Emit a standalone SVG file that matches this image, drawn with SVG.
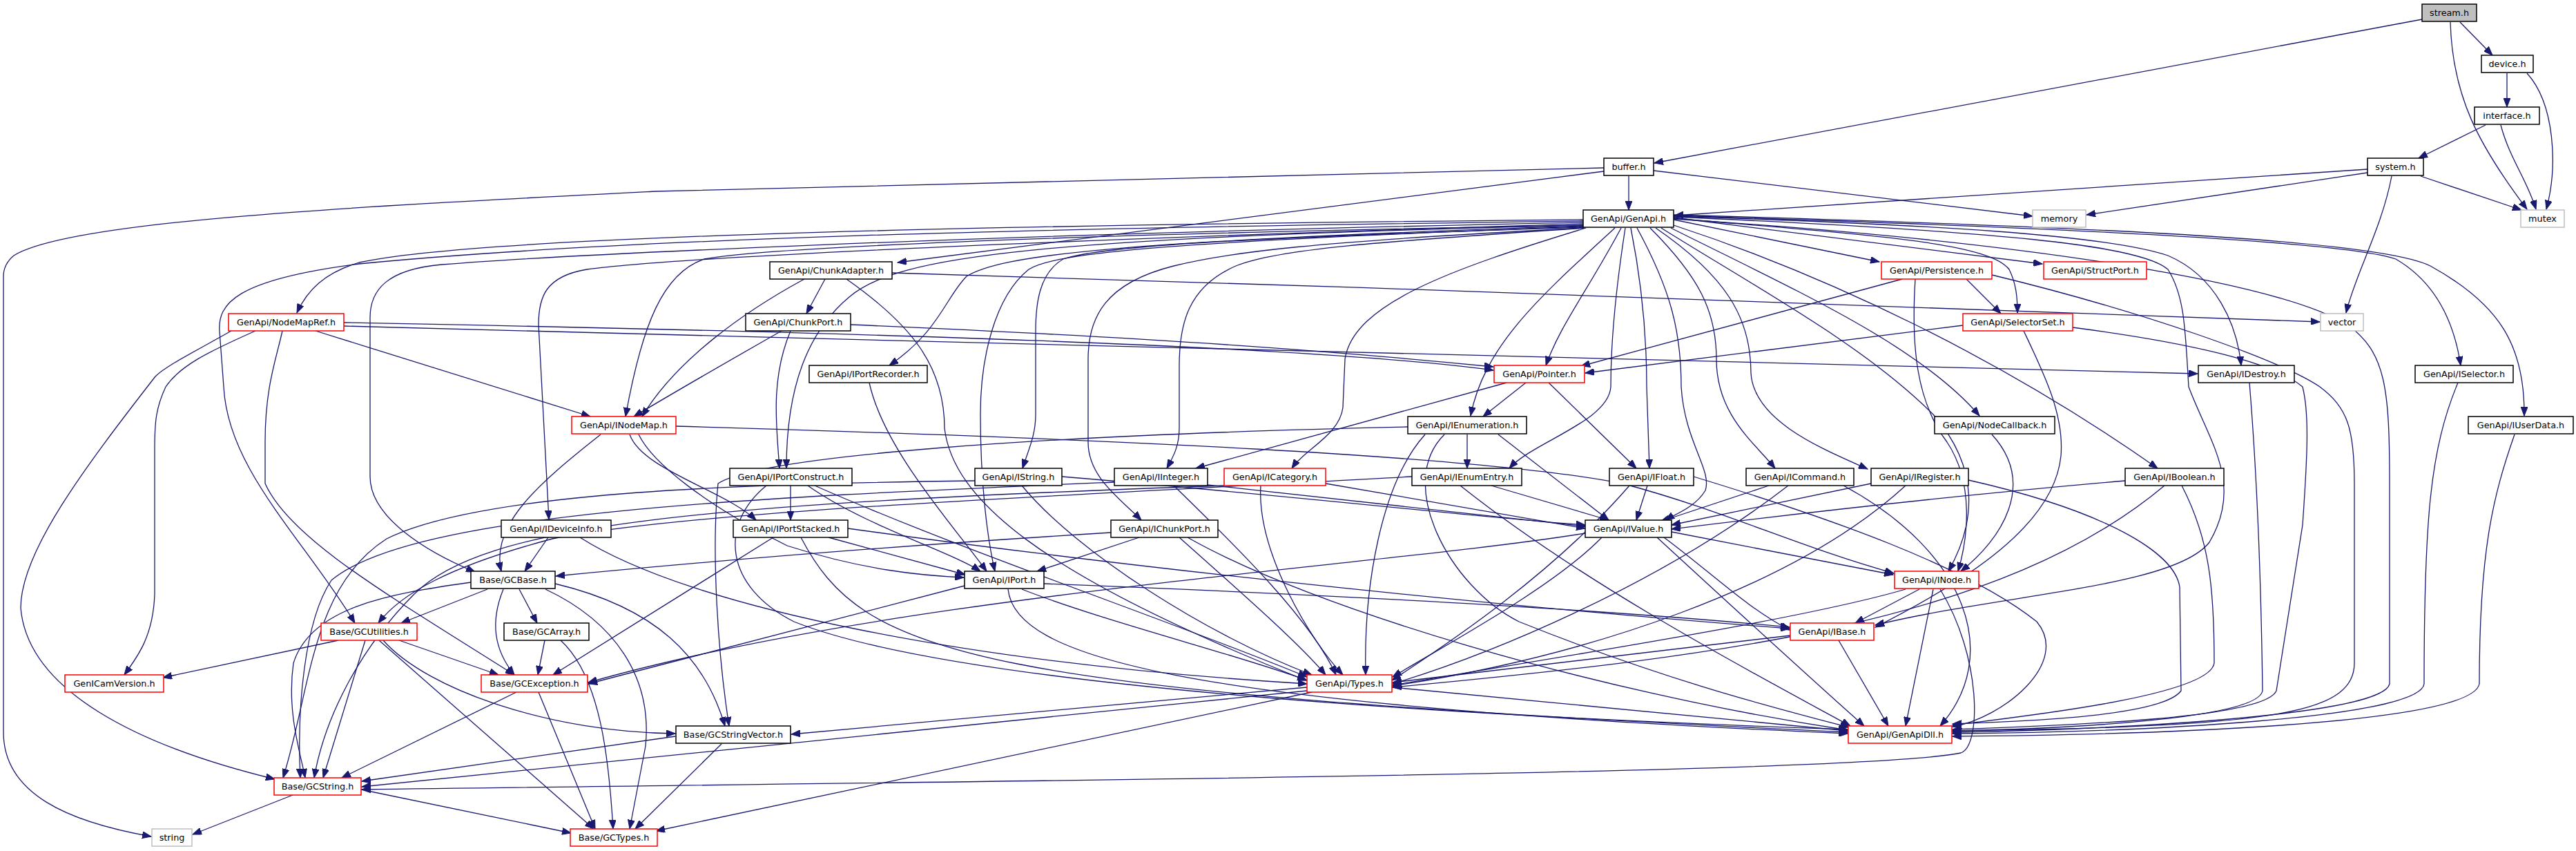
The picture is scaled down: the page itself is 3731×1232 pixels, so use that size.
<svg xmlns="http://www.w3.org/2000/svg" width="3731" height="1232" viewBox="0 0 3731 1232">
<style>
.bg{fill:#fff}
.e path{fill:none;stroke:#191970;stroke-width:1.3;marker-end:url(#a)}
.n rect{fill:#fff;stroke:#000;stroke-width:1.5}
.n.r rect{stroke:#ff0000}
.n.g rect{stroke:#bfbfbf}
.n.s rect{fill:#bfbfbf}
.n text{font-family:"DejaVu Sans",sans-serif;font-size:12.8px;text-anchor:middle;fill:#000}
</style>
<defs>
<marker id="a" markerUnits="userSpaceOnUse" markerWidth="14" markerHeight="10" refX="13" refY="5" orient="auto">
<path d="M0,0 L13,5 L0,10 z" fill="#191970" stroke="#191970" stroke-width="1"/>
</marker>
</defs>
<rect class="bg" x="0" y="0" width="3731" height="1232"/>
<g id="edges" class="e">
<path d="M3508 28 L2396 236"/>
<path d="M3563 32 L3610 80"/>
<path d="M3549 32 C3552 140 3590 210 3660 303"/>
<path d="M3631 106 L3631 155"/>
<path d="M3660 106 C3700 150 3705 240 3688 303"/>
<path d="M3600 181 L3503 229"/>
<path d="M3622 181 C3635 230 3660 260 3673 303"/>
<path d="M3429 245 L2425 312"/>
<path d="M3429 250 L3022 311"/>
<path d="M3464 255 C3450 330 3410 400 3398 453"/>
<path d="M3506 255 L3652 304"/>
<path d="M2359 255 L2359 304"/>
<path d="M2395 247 L2944 313"/>
<path d="M2323 243 L950 277 C500 300 100 320 20 370 C8 380 5 390 5 400 L5 1060 C5 1150 100 1190 219 1211"/>
<path d="M2323 248 L1300 380"/>
<path d="M2293 318 C1500 325 700 340 520 380 C470 395 445 420 430 453"/>
<path d="M2293 320 C1500 330 900 345 520 382 C340 405 315 440 318 480 L324 560 C330 680 440 780 514 902"/>
<path d="M2293 322 C1400 340 800 370 640 383 C560 390 536 420 536 460 L536 690 C536 750 620 800 688 828"/>
<path d="M2293 324 C1600 345 1000 370 850 390 C790 400 780 430 780 470 L795 752"/>
<path d="M2293 326 C1500 340 1100 360 1020 375 C960 395 930 470 906 603"/>
<path d="M2293 326 C1500 345 1300 370 1230 430 C1170 480 1139 560 1139 678"/>
<path d="M2293 327 C1600 350 1450 370 1400 400 C1370 430 1360 480 1288 529"/>
<path d="M2293 328 C1700 350 1530 365 1490 390 C1440 430 1420 520 1420 600 C1420 700 1430 780 1441 827"/>
<path d="M2293 329 C1800 345 1600 355 1540 375 C1505 395 1500 440 1500 480 L1500 600 C1500 630 1490 650 1481 678"/>
<path d="M2293 330 C1900 350 1780 365 1700 385 C1600 410 1576 460 1576 520 L1576 640 C1576 690 1620 720 1653 753"/>
<path d="M2295 330 C2000 350 1850 360 1790 385 C1720 415 1708 470 1708 530 L1708 620 C1708 645 1700 660 1690 678"/>
<path d="M2297 330 C2100 390 1960 440 1948 520 L1945 590 C1940 630 1890 650 1871 678"/>
<path d="M2339 330 C2230 430 2150 500 2130 602"/>
<path d="M2348 330 C2300 420 2260 470 2239 529"/>
<path d="M2354 330 C2340 420 2333 500 2333 560 C2330 610 2220 640 2186 678"/>
<path d="M2362 330 C2380 420 2385 500 2385 560 L2389 678"/>
<path d="M2371 330 C2420 420 2435 480 2435 560 C2440 640 2480 680 2470 710 C2455 735 2425 745 2412 753"/>
<path d="M2390 330 C2460 400 2486 450 2486 520 C2486 600 2540 640 2571 678"/>
<path d="M2398 330 C2500 400 2536 460 2536 540 C2540 610 2640 650 2705 679"/>
<path d="M2406 330 C2550 420 2700 500 2800 600 C2870 680 2860 760 2822 827"/>
<path d="M2420 330 C2600 420 2780 500 2867 602"/>
<path d="M2424 326 C2650 400 2900 520 3125 678"/>
<path d="M2424 318 L2722 379"/>
<path d="M2424 316 C2700 340 2880 350 2910 390 C2920 410 2922 430 2922 453"/>
<path d="M2424 315 L2958 382"/>
<path d="M2424 313 C2800 325 3050 340 3140 370 C3210 400 3240 470 3246 529"/>
<path d="M2424 312 C3000 330 3400 350 3470 375 C3530 410 3555 470 3564 529"/>
<path d="M2424 311 C3100 330 3450 350 3520 385 C3620 440 3657 500 3656 602"/>
<path d="M2424 314 C2900 335 3100 355 3140 390 C3165 430 3165 480 3170 560 C3200 640 3250 700 3200 785 C3150 850 2900 860 2716 905"/>
<path d="M2424 317 C2950 350 3300 410 3400 470 C3455 510 3461 560 3461 700 L3461 990 C3450 1040 3000 1058 2828 1060"/>
<path d="M335 479 C280 510 240 530 225 545 C120 680 30 800 30 880 C40 1000 200 1080 398 1128"/>
<path d="M370 479 C300 510 260 530 240 560 C226 590 224 610 224 650 L224 860 C222 920 200 950 180 977"/>
<path d="M409 479 C400 520 384 560 384 640 L384 700 C420 780 560 860 745 977"/>
<path d="M457 479 L855 603"/>
<path d="M498 467 C1200 480 1900 500 2163 536"/>
<path d="M498 472 C1500 500 2700 525 3183 541"/>
<path d="M1195 404 L1168 454"/>
<path d="M1165 404 C1080 450 980 520 930 603"/>
<path d="M1292 395 C2000 417 2900 445 3360 466"/>
<path d="M1226 404 C1320 470 1368 530 1368 620 C1380 720 1500 830 1892 985"/>
<path d="M1132 479 C1060 520 990 560 918 603"/>
<path d="M1145 479 C1115 550 1125 620 1129 678"/>
<path d="M1232 470 C1700 490 1950 510 2163 531"/>
<path d="M1259 554 C1280 650 1380 760 1429 827"/>
<path d="M2755 404 L2290 530"/>
<path d="M2848 404 L2898 454"/>
<path d="M2774 404 C2768 500 2775 580 2820 640 C2860 700 2850 780 2836 827"/>
<path d="M2885 398 C3100 450 3300 520 3360 560 C3400 590 3410 620 3410 700 L3410 960 C3410 1030 3300 1045 3000 1055 L2828 1058"/>
<path d="M2843 471 L2296 540"/>
<path d="M2931 479 C2960 540 2990 600 2985 660 C2975 760 2850 840 2716 908"/>
<path d="M3002 474 C3200 500 3300 530 3335 560 C3345 600 3342 660 3335 760 L3297 1000 C3280 1040 3000 1050 2828 1056"/>
<path d="M2210 554 L2148 603"/>
<path d="M2182 554 L1732 678"/>
<path d="M2243 554 L2370 678"/>
<path d="M870 629 C780 700 710 760 726 827"/>
<path d="M912 629 C930 680 1050 710 1095 753"/>
<path d="M925 629 C945 670 1020 730 1140 790 C1250 825 1330 833 1396 836"/>
<path d="M979 617 C1600 635 2150 660 2350 700 C2500 740 2600 790 2743 830"/>
<path d="M706 853 L581 902"/>
<path d="M752 853 L778 902"/>
<path d="M729 853 C710 900 715 940 745 977"/>
<path d="M682 843 C560 860 450 880 425 960 C415 1030 435 1090 442 1126"/>
<path d="M790 853 C890 900 945 980 935 1080 L912 1200"/>
<path d="M804 845 C950 880 1020 950 1050 1051"/>
<path d="M490 927 L236 981"/>
<path d="M578 927 L722 977"/>
<path d="M529 927 L468 1126"/>
<path d="M549 927 L860 1200"/>
<path d="M555 927 C620 1000 800 1060 978 1062"/>
<path d="M789 927 L779 977"/>
<path d="M812 927 C870 980 882 1100 888 1200"/>
<path d="M748 1002 L495 1126"/>
<path d="M780 1002 L862 1200"/>
<path d="M978 1066 L524 1131"/>
<path d="M1045 1077 L920 1200"/>
<path d="M424 1151 L279 1208"/>
<path d="M523 1143 L827 1206"/>
<path d="M1893 995 L1146 1063"/>
<path d="M1893 1000 L524 1139"/>
<path d="M1900 1002 L950 1203"/>
<path d="M2016 995 L2676 1058"/>
<path d="M2593 920 L2017 988"/>
<path d="M2663 927 L2735 1051"/>
<path d="M2780 853 L2687 902"/>
<path d="M2800 853 L2760 1051"/>
<path d="M2810 853 C2870 950 2870 1080 2840 1090 C2700 1120 1500 1130 524 1143"/>
<path d="M2760 853 C2600 900 2200 960 2017 992"/>
<path d="M2421 770 L2742 832"/>
<path d="M2410 778 C2480 830 2530 880 2592 912"/>
<path d="M2320 778 C2250 850 2100 930 2017 980"/>
<path d="M2400 778 C2500 870 2620 980 2700 1051"/>
<path d="M2296 772 C2000 820 1300 860 852 988"/>
<path d="M1512 845 C1900 860 2300 880 2592 908"/>
<path d="M1480 853 C1600 900 1800 950 1893 985"/>
<path d="M1460 853 C1470 950 1700 1020 2676 1062"/>
<path d="M1397 848 L852 990"/>
<path d="M1650 778 L1502 827"/>
<path d="M1609 771 C1300 790 1000 815 805 834"/>
<path d="M1708 778 C1800 860 1880 930 1920 977"/>
<path d="M1720 778 C1900 880 2300 1000 2676 1057"/>
<path d="M1200 778 L1398 832"/>
<path d="M1120 778 L801 977"/>
<path d="M1228 765 C1700 830 2200 880 2592 910"/>
<path d="M1160 778 C1250 950 1400 1000 2676 1060"/>
<path d="M1145 703 L1145 753"/>
<path d="M1170 703 C1250 760 1380 800 1420 827"/>
<path d="M1180 703 C1400 800 1700 900 1893 980"/>
<path d="M1110 703 C1040 760 1050 850 1150 900 C1400 1000 2200 1040 2676 1056"/>
<path d="M794 778 L760 827"/>
<path d="M840 778 C1000 880 1400 960 1893 990"/>
<path d="M1538 690 C1900 720 2150 750 2296 760"/>
<path d="M1412 696 C1100 700 700 710 560 780 C450 850 450 1000 410 1126"/>
<path d="M1480 703 C1560 800 1750 920 1900 977"/>
<path d="M1749 702 L2296 762"/>
<path d="M1614 698 C1100 720 600 740 480 840 C440 900 430 1030 435 1126"/>
<path d="M1700 703 C1800 800 1900 900 1935 977"/>
<path d="M1920 700 L2296 765"/>
<path d="M1773 703 C1000 730 700 760 600 860 C520 940 470 1040 455 1126"/>
<path d="M1826 703 C1820 800 1900 930 1945 977"/>
<path d="M2160 703 L2330 753"/>
<path d="M2045 690 C1500 720 1000 740 800 780 C650 820 580 860 548 902"/>
<path d="M2115 703 C2300 850 2550 980 2680 1051"/>
<path d="M2125 629 L2125 678"/>
<path d="M2170 629 L2330 753"/>
<path d="M2039 618 C1500 630 1100 660 1040 700 C1030 800 1040 950 1056 1051"/>
<path d="M2064 629 C2000 700 1975 850 1978 977"/>
<path d="M2092 629 C2020 700 2100 850 2200 900 C2400 980 2550 1020 2678 1053"/>
<path d="M2386 703 L2370 753"/>
<path d="M2360 703 C2250 830 2100 930 2016 985"/>
<path d="M2453 690 C2650 750 2850 820 2950 900 C3000 960 2900 1040 2828 1052"/>
<path d="M2562 703 L2405 755"/>
<path d="M2590 703 C2400 850 2150 950 2017 990"/>
<path d="M2670 703 C2850 800 2900 950 2810 1051"/>
<path d="M2710 700 L2421 760"/>
<path d="M2760 703 C2600 850 2300 950 2017 993"/>
<path d="M2851 695 C3050 740 3150 800 3157 850 L3159 1000 C3130 1040 2900 1045 2828 1048"/>
<path d="M3078 696 C2800 720 2550 750 2421 766"/>
<path d="M3135 703 C2900 900 2500 950 2017 995"/>
<path d="M3160 703 C3200 780 3207 850 3207 960 C3200 1010 2900 1040 2828 1050"/>
<path d="M2885 629 C2950 700 2900 780 2840 827"/>
<path d="M3258 554 C3270 700 3275 850 3277 1000 C3270 1040 3000 1055 2828 1058"/>
<path d="M3560 554 C3520 650 3511 750 3511 990 C3505 1040 3100 1060 2828 1062"/>
<path d="M3642 629 C3610 720 3591 800 3591 990 C3580 1050 3100 1064 2828 1066"/>
</g>
<g id="nodes">
<g id="n_stream" class="n s"><rect x="3508" y="6" width="79" height="25"/><text x="3547.5" y="23">stream.h</text></g>
<g id="n_device" class="n"><rect x="3594" y="80" width="75" height="25"/><text x="3631.5" y="97">device.h</text></g>
<g id="n_interface" class="n"><rect x="3584" y="155" width="94" height="25"/><text x="3631" y="172">interface.h</text></g>
<g id="n_system" class="n"><rect x="3429" y="229" width="81" height="25"/><text x="3469.5" y="246">system.h</text></g>
<g id="n_buffer" class="n"><rect x="2323" y="229" width="72" height="25"/><text x="2359" y="246">buffer.h</text></g>
<g id="n_memory" class="n g"><rect x="2944" y="304" width="77" height="25"/><text x="2982.5" y="321">memory</text></g>
<g id="n_mutex" class="n g"><rect x="3651" y="304" width="63" height="25"/><text x="3682.5" y="321">mutex</text></g>
<g id="n_GenApi" class="n"><rect x="2293" y="304" width="131" height="25"/><text x="2358.5" y="321">GenApi/GenApi.h</text></g>
<g id="n_ChunkAdapter" class="n"><rect x="1115" y="379" width="177" height="25"/><text x="1203.5" y="396">GenApi/ChunkAdapter.h</text></g>
<g id="n_Persistence" class="n r"><rect x="2725" y="379" width="160" height="25"/><text x="2805" y="396">GenApi/Persistence.h</text></g>
<g id="n_StructPort" class="n r"><rect x="2960" y="379" width="149" height="25"/><text x="3034.5" y="396">GenApi/StructPort.h</text></g>
<g id="n_NodeMapRef" class="n r"><rect x="331" y="454" width="167" height="25"/><text x="414.5" y="471">GenApi/NodeMapRef.h</text></g>
<g id="n_ChunkPort" class="n"><rect x="1080" y="454" width="152" height="25"/><text x="1156" y="471">GenApi/ChunkPort.h</text></g>
<g id="n_SelectorSet" class="n r"><rect x="2843" y="454" width="159" height="25"/><text x="2922.5" y="471">GenApi/SelectorSet.h</text></g>
<g id="n_vector" class="n g"><rect x="3361" y="454" width="62" height="25"/><text x="3392" y="471">vector</text></g>
<g id="n_IPortRecorder" class="n"><rect x="1172" y="529" width="171" height="25"/><text x="1257.5" y="546">GenApi/IPortRecorder.h</text></g>
<g id="n_Pointer" class="n r"><rect x="2164" y="529" width="131" height="25"/><text x="2229.5" y="546">GenApi/Pointer.h</text></g>
<g id="n_IDestroy" class="n"><rect x="3184" y="529" width="139" height="25"/><text x="3253.5" y="546">GenApi/IDestroy.h</text></g>
<g id="n_ISelector" class="n"><rect x="3498" y="529" width="142" height="25"/><text x="3569" y="546">GenApi/ISelector.h</text></g>
<g id="n_INodeMap" class="n r"><rect x="828" y="603" width="151" height="25"/><text x="903.5" y="620">GenApi/INodeMap.h</text></g>
<g id="n_IEnumeration" class="n"><rect x="2039" y="603" width="172" height="25"/><text x="2125" y="620">GenApi/IEnumeration.h</text></g>
<g id="n_NodeCallback" class="n"><rect x="2802" y="603" width="174" height="25"/><text x="2889" y="620">GenApi/NodeCallback.h</text></g>
<g id="n_IUserData" class="n"><rect x="3575" y="603" width="152" height="25"/><text x="3651" y="620">GenApi/IUserData.h</text></g>
<g id="n_IPortConstruct" class="n"><rect x="1057" y="678" width="177" height="25"/><text x="1145.5" y="695">GenApi/IPortConstruct.h</text></g>
<g id="n_IString" class="n"><rect x="1412" y="678" width="126" height="25"/><text x="1475" y="695">GenApi/IString.h</text></g>
<g id="n_IInteger" class="n"><rect x="1614" y="678" width="135" height="25"/><text x="1681.5" y="695">GenApi/IInteger.h</text></g>
<g id="n_ICategory" class="n r"><rect x="1773" y="678" width="147" height="25"/><text x="1846.5" y="695">GenApi/ICategory.h</text></g>
<g id="n_IEnumEntry" class="n"><rect x="2045" y="678" width="159" height="25"/><text x="2124.5" y="695">GenApi/IEnumEntry.h</text></g>
<g id="n_IFloat" class="n"><rect x="2331" y="678" width="122" height="25"/><text x="2392" y="695">GenApi/IFloat.h</text></g>
<g id="n_ICommand" class="n"><rect x="2529" y="678" width="156" height="25"/><text x="2607" y="695">GenApi/ICommand.h</text></g>
<g id="n_IRegister" class="n"><rect x="2710" y="678" width="141" height="25"/><text x="2780.5" y="695">GenApi/IRegister.h</text></g>
<g id="n_IBoolean" class="n"><rect x="3078" y="678" width="143" height="25"/><text x="3149.5" y="695">GenApi/IBoolean.h</text></g>
<g id="n_IDeviceInfo" class="n"><rect x="726" y="753" width="159" height="25"/><text x="805.5" y="770">GenApi/IDeviceInfo.h</text></g>
<g id="n_IPortStacked" class="n"><rect x="1062" y="753" width="166" height="25"/><text x="1145" y="770">GenApi/IPortStacked.h</text></g>
<g id="n_IChunkPort" class="n"><rect x="1609" y="753" width="155" height="25"/><text x="1686.5" y="770">GenApi/IChunkPort.h</text></g>
<g id="n_IValue" class="n"><rect x="2296" y="753" width="125" height="25"/><text x="2358.5" y="770">GenApi/IValue.h</text></g>
<g id="n_GCBase" class="n"><rect x="682" y="827" width="122" height="25"/><text x="743" y="844">Base/GCBase.h</text></g>
<g id="n_IPort" class="n"><rect x="1397" y="827" width="115" height="25"/><text x="1454.5" y="844">GenApi/IPort.h</text></g>
<g id="n_INode" class="n r"><rect x="2744" y="827" width="122" height="25"/><text x="2805" y="844">GenApi/INode.h</text></g>
<g id="n_GCUtilities" class="n r"><rect x="465" y="902" width="139" height="25"/><text x="534.5" y="919">Base/GCUtilities.h</text></g>
<g id="n_GCArray" class="n"><rect x="730" y="902" width="123" height="25"/><text x="791.5" y="919">Base/GCArray.h</text></g>
<g id="n_IBase" class="n r"><rect x="2593" y="902" width="121" height="25"/><text x="2653.5" y="919">GenApi/IBase.h</text></g>
<g id="n_GenICamVersion" class="n r"><rect x="94" y="977" width="143" height="25"/><text x="165.5" y="994">GenICamVersion.h</text></g>
<g id="n_GCException" class="n r"><rect x="697" y="977" width="154" height="25"/><text x="774" y="994">Base/GCException.h</text></g>
<g id="n_Types" class="n r"><rect x="1893" y="977" width="123" height="25"/><text x="1954.5" y="994">GenApi/Types.h</text></g>
<g id="n_GCStringVector" class="n"><rect x="979" y="1051" width="166" height="25"/><text x="1062" y="1068">Base/GCStringVector.h</text></g>
<g id="n_GenApiDll" class="n r"><rect x="2677" y="1051" width="150" height="25"/><text x="2752" y="1068">GenApi/GenApiDll.h</text></g>
<g id="n_GCString" class="n r"><rect x="397" y="1126" width="126" height="25"/><text x="460" y="1143">Base/GCString.h</text></g>
<g id="n_string" class="n g"><rect x="220" y="1200" width="58" height="25"/><text x="249" y="1217">string</text></g>
<g id="n_GCTypes" class="n r"><rect x="826" y="1200" width="126" height="25"/><text x="889" y="1217">Base/GCTypes.h</text></g>
</g>
</svg>
